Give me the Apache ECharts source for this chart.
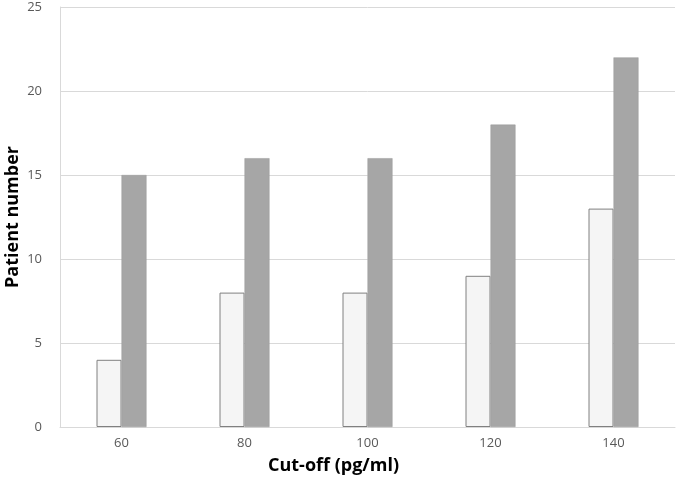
<!DOCTYPE html>
<html><head><meta charset="utf-8">
<script src="https://cdn.jsdelivr.net/npm/echarts@6/dist/echarts.min.js"></script>
<style>html,body{margin:0;padding:0;background:#fff}#c{width:680px;height:491px}</style>
</head><body><div id="c"></div>
<script>
const categories = ['60', '80', '100', '120', '140'];
const seriesLight = [4, 8, 8, 9, 13];
const seriesDark = [15, 16, 16, 18, 22];
const yTicks = { min: 0, max: 25, interval: 5 };

const chart = echarts.init(document.getElementById('c'));
const font = 'Open Sans, Noto Sans, sans-serif';
chart.setOption({
  animation: false,
  grid: { left: 60, right: 5, top: 7, bottom: 64, containLabel: false, outerBoundsMode: 'none' },
  xAxis: {
    type: 'category', data: categories,
    name: 'Cut-off (pg/ml)', nameLocation: 'middle', nameGap: 30, nameMoveOverlap: false,
    nameTextStyle: { fontFamily: font, fontSize: 18, fontWeight: 'bold', color: '#000', padding: [0, 68, 0, 0] },
    axisLine: { lineStyle: { color: '#d9d9d9', width: 1 } },
    axisTick: { show: false },
    axisLabel: { fontFamily: font, fontSize: 13, color: '#595959', margin: 10 }
  },
  yAxis: {
    type: 'value', min: yTicks.min, max: yTicks.max, interval: yTicks.interval,
    name: 'Patient number', nameLocation: 'middle', nameGap: 38, nameMoveOverlap: false,
    nameTextStyle: { fontFamily: font, fontSize: 18, fontWeight: 'bold', color: '#000' },
    axisLine: { show: true, lineStyle: { color: '#d9d9d9', width: 1 } },
    axisTick: { show: false },
    axisLabel: { fontFamily: font, fontSize: 13, color: '#595959', margin: 18 },
    splitLine: { lineStyle: { color: '#d9d9d9', width: 1 } }
  },
  series: [
    { type: 'bar', data: seriesLight, barWidth: 25, barGap: '0%',
      itemStyle: { color: '#f5f5f5', borderColor: '#808080', borderWidth: 1 } },
    { type: 'bar', data: seriesDark, barWidth: 25,
      itemStyle: { color: '#a6a6a6', borderColor: '#999999', borderWidth: 0.5 } }
  ]
});
</script></body></html>
